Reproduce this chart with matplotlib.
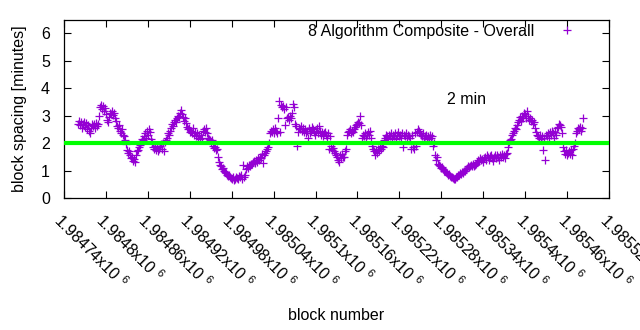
import numpy as np
import matplotlib
matplotlib.use('Agg')
import matplotlib.pyplot as plt

plt.rcParams['font.family'] = ['Liberation Sans', 'DejaVu Sans']
plt.rcParams['mathtext.default'] = 'regular'

# block range covered by the rolling spacing series (one value per sample)
block_start = 1984760
block_end = 1985483

# average block spacing in minutes
spacing_min = [
    2.70, 2.80, 2.65, 2.75, 2.55, 2.70, 2.78, 2.60, 2.72, 2.50,
    2.65, 2.45, 2.36, 2.55, 2.68, 2.62, 2.70, 2.55, 2.72, 2.62,
    2.68, 3.00, 3.30, 3.38, 3.25, 3.35, 3.15, 3.28, 3.05, 2.85,
    2.78, 2.95, 3.10, 3.05, 3.18, 3.02, 3.10, 2.90, 2.80, 2.62,
    2.55, 2.65, 2.45, 2.38, 2.50, 2.30, 2.25, 2.10, 1.95, 1.75,
    1.65, 1.70, 1.55, 1.45, 1.50, 1.35, 1.42, 1.30, 1.55, 1.70,
    1.75, 1.85, 1.92, 2.05, 2.15, 2.10, 2.25, 2.35, 2.20, 2.45,
    2.30, 2.50, 2.40, 2.15, 2.05, 1.85, 1.80, 1.90, 1.75, 1.85,
    1.70, 1.80, 1.90, 1.95, 1.80, 2.00, 1.72, 2.05, 2.10, 2.20,
    2.35, 2.28, 2.45, 2.55, 2.70, 2.62, 2.78, 2.85, 2.75, 2.90,
    3.00, 2.95, 3.10, 3.22, 3.05, 2.95, 2.80, 2.90, 2.72, 2.60,
    2.50, 2.55, 2.40, 2.45, 2.35, 2.55, 2.30, 2.42, 2.25, 2.35,
    2.20, 2.28, 2.15, 2.30, 2.20, 2.45, 2.52, 2.40, 2.55, 2.35,
    2.20, 2.15, 2.10, 2.05, 2.12, 1.90, 1.82, 1.85, 1.75, 1.80,
    1.50, 1.30, 1.20, 1.15, 1.05, 1.10, 1.00, 0.95, 0.90, 0.85,
    0.80, 0.82, 0.75, 0.72, 0.68, 0.75, 0.65, 0.70, 0.78, 0.72,
    0.68, 0.80, 0.75, 0.85, 0.70, 1.20, 0.78, 0.82, 1.05, 1.15,
    1.10, 1.20, 1.18, 1.25, 1.22, 1.30, 1.35, 1.28, 1.40, 1.32,
    1.45, 1.38, 1.50, 1.45, 1.60, 1.27, 1.55, 1.65, 1.70, 1.78,
    1.85, 2.00, 2.35, 2.45, 2.40, 2.50, 2.38, 2.55, 2.45, 2.35,
    2.90, 3.55, 2.42, 3.40, 3.30, 3.35, 3.25, 2.65, 3.30, 2.90,
    2.95, 2.85, 3.00, 2.92, 3.10, 3.42, 3.30, 2.70, 2.62, 1.90,
    2.40, 2.55, 2.50, 2.62, 2.45, 2.55, 2.40, 2.50, 2.35, 2.45,
    2.20, 2.55, 2.35, 2.45, 2.60, 2.50, 2.40, 2.30, 2.45, 2.55,
    2.35, 2.62, 2.45, 2.30, 2.40, 2.25, 2.35, 2.40, 2.30, 2.20,
    2.35, 1.80, 2.25, 1.90, 1.75, 1.82, 1.70, 1.65, 1.55, 1.50,
    1.40, 1.30, 1.55, 1.45, 1.60, 1.50, 1.48, 1.72, 1.80, 2.30,
    2.40, 2.45, 2.50, 2.35, 2.45, 2.40, 2.52, 2.60, 2.65, 2.70,
    2.75, 2.72, 3.00, 2.65, 2.20, 2.30, 2.25, 2.35, 2.20, 2.30,
    2.40, 2.30, 2.45, 2.20, 1.90, 1.80, 1.70, 1.55, 1.75, 1.65,
    1.80, 1.72, 1.85, 1.80, 1.90, 1.85, 2.10, 2.20, 2.30, 2.25,
    2.15, 2.30, 2.25, 2.35, 2.20, 2.30, 2.25, 2.35, 2.15, 2.30,
    2.40, 2.25, 2.30, 2.20, 2.35, 1.85, 2.30, 2.25, 2.35, 2.20,
    2.30, 2.25, 2.20, 1.80, 2.30, 1.85, 1.80, 2.35, 1.90, 2.40,
    2.50, 2.45, 2.38, 2.30, 2.25, 2.35, 2.20, 2.25, 2.30, 2.15,
    2.25, 2.20, 2.30, 2.20, 2.25, 1.90, 2.00, 1.55, 1.40, 1.50,
    1.25, 1.20, 1.15, 1.10, 1.12, 1.05, 1.00, 0.98, 0.95, 0.90,
    0.85, 0.88, 0.80, 0.78, 0.75, 0.72, 0.68, 0.70, 0.78, 0.75,
    0.85, 0.82, 0.90, 0.88, 0.95, 0.92, 1.00, 0.98, 1.05, 1.10,
    1.15, 1.12, 1.18, 1.20, 1.15, 1.22, 1.18, 1.20, 1.25, 1.30,
    1.40, 1.35, 1.45, 1.38, 1.42, 1.30, 1.45, 1.50, 1.40, 1.55,
    1.48, 1.40, 1.52, 1.55, 1.45, 1.35, 1.50, 1.55, 1.45, 1.58,
    1.50, 1.40, 1.55, 1.48, 1.60, 1.50, 1.55, 1.45, 1.62, 1.65,
    1.85, 2.05, 2.10, 2.15, 2.30, 2.35, 2.45, 2.55, 2.50, 2.65,
    2.75, 2.85, 2.95, 2.80, 3.00, 2.90, 3.10, 3.05, 2.90, 3.15,
    3.00, 2.85, 2.90, 2.80, 2.85, 2.70, 2.75, 2.55, 2.40, 2.30,
    2.25, 2.20, 2.30, 2.15, 2.25, 1.75, 2.20, 1.40, 2.30, 2.25,
    2.35, 2.20, 2.40, 2.30, 2.45, 2.35, 2.20, 2.40, 2.30, 2.55,
    2.60, 2.70, 2.65, 2.60, 2.35, 1.85, 1.70, 1.60, 1.75, 1.55,
    1.65, 1.70, 1.60, 1.75, 1.55, 1.80, 1.90, 2.00, 2.35, 2.45,
    2.55, 2.50, 2.60, 2.45, 2.55, 2.90,
]

target_min = 2
x_ticks = list(range(1984740, 1985521, 60))
y_ticks = [0, 1, 2, 3, 4, 5, 6]

blocks = np.linspace(block_start, block_end, len(spacing_min))

fig = plt.figure(figsize=(6.4, 3.3), dpi=100)
ax = fig.add_axes([0.1, 0.4, 0.8516, 0.5409])
fs = 11.5

ax.plot(blocks, spacing_min, linestyle='none', marker='+', markersize=5.5,
        markeredgewidth=0.9, color='#9400D3', label='8 Algorithm Composite - Overall')
ax.axhline(target_min, color='#00FF00', linewidth=3, zorder=3)
ax.text(1985288, 3.58, '2 min', ha='left', va='center', fontsize=fs)

ax.set_xlim(1984740, 1985520)
ax.set_ylim(0, 6.5)
ax.set_xticks(x_ticks)
ax.set_xticklabels([f'{t / 1e6:.6g}x10 $^{{6}}$' for t in x_ticks],
                   rotation=-45, ha='left', va='top', rotation_mode='anchor')
ax.set_yticks(y_ticks)
ax.tick_params(direction='in', length=5, width=0.8, top=True, right=True,
               labelsize=fs, colors='black')
ax.tick_params(axis='x', pad=9)
ax.tick_params(axis='y', pad=10)
for sp in ax.spines.values():
    sp.set_linewidth(0.9)

ax.set_xlabel('block number', fontsize=fs, labelpad=12)
ax.set_ylabel('block spacing [minutes]', fontsize=fs, labelpad=10)

ax.legend(loc='upper right', bbox_to_anchor=(0.953, 0.975), frameon=False,
          markerfirst=False, fontsize=fs, borderpad=0, borderaxespad=0,
          handlelength=2, handletextpad=1.1)

fig.savefig('out.png', dpi=100)
